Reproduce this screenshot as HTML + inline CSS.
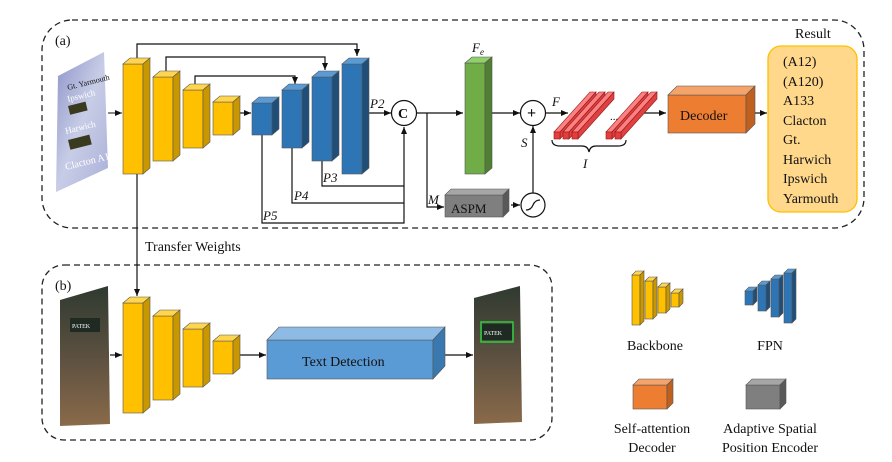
<!DOCTYPE html>
<html><head><meta charset="utf-8"><style>
html,body{margin:0;padding:0;background:#fff}
svg{display:block}
text{font-family:"Liberation Serif",serif;fill:#111}
</style></head><body>
<svg width="892" height="462" viewBox="0 0 892 462" xmlns="http://www.w3.org/2000/svg">
<defs>
<marker id="ar" markerWidth="8" markerHeight="8" refX="7" refY="4" orient="auto" markerUnits="userSpaceOnUse"><path d="M0,1 L7,4 L0,7 z" fill="#111"/></marker>
<linearGradient id="img1" x1="0" y1="0" x2="1" y2="1"><stop offset="0" stop-color="#8c93c8"/><stop offset="0.5" stop-color="#c8cde6"/><stop offset="1" stop-color="#aab0d8"/></linearGradient>
<linearGradient id="img2" x1="0" y1="0" x2="0" y2="1"><stop offset="0" stop-color="#2f3a30"/><stop offset="0.5" stop-color="#5b5040"/><stop offset="1" stop-color="#8a6a4a"/></linearGradient>
</defs>
<!-- dashed containers -->
<rect x="42" y="20" width="822" height="208" rx="30" fill="none" stroke="#222" stroke-width="1.3" stroke-dasharray="6,4"/>
<rect x="42" y="265" width="510" height="175" rx="22" fill="none" stroke="#222" stroke-width="1.3" stroke-dasharray="6,4"/>
<text x="55" y="45" font-size="14">(a)</text>
<text x="55" y="290" font-size="14">(b)</text>

<!-- input image a -->
<polygon points="58,76 104,52 108,168 56,192" fill="url(#img1)"/>
<text x="68" y="90" font-size="8" font-family="Liberation Sans" fill="#fff" transform="rotate(-14 68 90)">Gt. Yarmouth</text>
<text x="68" y="102" font-size="9" font-family="Liberation Sans" transform="rotate(-14 68 102)" style="fill:#fff">Ipswich</text>
<rect x="68" y="106" width="18" height="9" fill="#3a3a20" transform="rotate(-14 68 106)"/>
<text x="66" y="134" font-size="9" font-family="Liberation Sans" transform="rotate(-14 66 134)" style="fill:#fff">Harwich</text>
<rect x="68" y="140" width="22" height="10" fill="#3a3a20" transform="rotate(-14 68 140)"/>
<text x="66" y="170" font-size="10" font-family="Liberation Sans" transform="rotate(-14 66 170)" style="fill:#fff">Clacton A133</text>
<line x1="108" y1="113" x2="122" y2="113" stroke="#111" marker-end="url(#ar)"/>

<!-- skip lines -->
<g fill="none" stroke="#111" stroke-width="1.2">
<polyline points="137,58 137,44 357,44 357,56" marker-end="url(#ar)"/>
<polyline points="166,71 166,57 325,57 325,70" marker-end="url(#ar)"/>
<polyline points="195,84 195,76 295,76 295,84" marker-end="url(#ar)"/>
<line x1="240" y1="113" x2="251" y2="113" marker-end="url(#ar)"/>
<line x1="369" y1="113" x2="391" y2="113" marker-end="url(#ar)"/>
<polyline points="322,161 322,186 404,186"/>
<polyline points="292,148 292,203 404,203"/>
<polyline points="262,135 262,223 404,223 404,127" marker-end="url(#ar)"/>
<line x1="417" y1="113" x2="463" y2="113" marker-end="url(#ar)"/>
<polyline points="427,113 427,207 444,207" marker-end="url(#ar)"/>
<line x1="492" y1="113" x2="520" y2="113" marker-end="url(#ar)"/>
<line x1="511" y1="205" x2="520" y2="205" marker-end="url(#ar)"/>
<line x1="533" y1="193" x2="533" y2="126" marker-end="url(#ar)"/>
<line x1="545" y1="113" x2="568" y2="113" marker-end="url(#ar)"/>
<line x1="634" y1="113" x2="666" y2="113" marker-end="url(#ar)"/>
<line x1="755" y1="113" x2="767" y2="113" marker-end="url(#ar)"/>
<line x1="137" y1="174" x2="137" y2="296" marker-end="url(#ar)"/>
<line x1="240" y1="355" x2="266" y2="355" marker-end="url(#ar)"/>
<line x1="445" y1="355" x2="473" y2="355" marker-end="url(#ar)"/>
<line x1="110" y1="355" x2="122" y2="355" marker-end="url(#ar)"/>
<path d="M552,140 q0,6 8,6 h22 q6,0 7,6 q1,-6 7,-6 h22 q8,0 8,-6"/>
</g>

<!-- backbone a -->
<g stroke="#555" stroke-width="0.6">
<rect x="123" y="64" width="20" height="110" fill="#ffc000"/><polygon points="123,64 130,58 150,58 143,64" fill="#ffd54f"/><polygon points="143,64 150,58 150,168 143,174" fill="#c99700"/>
<rect x="153" y="77" width="20" height="84" fill="#ffc000"/><polygon points="153,77 160,71 180,71 173,77" fill="#ffd54f"/><polygon points="173,77 180,71 180,155 173,161" fill="#c99700"/>
<rect x="183" y="90" width="20" height="58" fill="#ffc000"/><polygon points="183,90 190,84 210,84 203,90" fill="#ffd54f"/><polygon points="203,90 210,84 210,142 203,148" fill="#c99700"/>
<rect x="213" y="102" width="20" height="33" fill="#ffc000"/><polygon points="213,102 220,96 240,96 233,102" fill="#ffd54f"/><polygon points="233,102 240,96 240,129 233,135" fill="#c99700"/>
<!-- fpn -->
<rect x="252" y="103" width="20" height="32" fill="#2e75b6"/><polygon points="252,103 259,97 279,97 272,103" fill="#5b9bd5"/><polygon points="272,103 279,97 279,129 272,135" fill="#1f4e79"/>
<rect x="282" y="90" width="20" height="58" fill="#2e75b6"/><polygon points="282,90 289,84 309,84 302,90" fill="#5b9bd5"/><polygon points="302,90 309,84 309,142 302,148" fill="#1f4e79"/>
<rect x="312" y="77" width="20" height="84" fill="#2e75b6"/><polygon points="312,77 319,71 339,71 332,77" fill="#5b9bd5"/><polygon points="332,77 339,71 339,155 332,161" fill="#1f4e79"/>
<rect x="342" y="64" width="20" height="110" fill="#2e75b6"/><polygon points="342,64 349,58 369,58 362,64" fill="#5b9bd5"/><polygon points="362,64 369,58 369,168 362,174" fill="#1f4e79"/>
<!-- green -->
<rect x="465" y="63" width="20" height="111" fill="#70ad47"/><polygon points="465,63 472,57 492,57 485,63" fill="#8fd06a"/><polygon points="485,63 492,57 492,168 485,174" fill="#507e32"/>
<!-- aspm -->
<rect x="445" y="195" width="58" height="22" fill="#7f7f7f"/><polygon points="445,195 451,189 509,189 503,195" fill="#a6a6a6"/><polygon points="503,195 509,189 509,211 503,217" fill="#595959"/>
<!-- decoder -->
<rect x="668" y="95" width="78" height="38" fill="#ed7d31"/><polygon points="668,95 677,86 755,86 746,95" fill="#f4a36a"/><polygon points="746,95 755,86 755,124 746,133" fill="#c0601f"/>
</g>
<text x="370" y="108" font-size="13" font-style="italic">P2</text>
<text x="323" y="182" font-size="13" font-style="italic">P3</text>
<text x="294" y="200" font-size="13" font-style="italic">P4</text>
<text x="263" y="220" font-size="13" font-style="italic">P5</text>
<text x="428" y="204" font-size="13" font-style="italic">M</text>
<text x="451" y="213" font-size="13">ASPM</text>
<text x="472" y="52" font-size="13" font-style="italic">F<tspan font-size="9" dy="3">e</tspan></text>
<text x="552" y="106" font-size="13" font-style="italic">F</text>
<text x="521" y="147" font-size="13" font-style="italic">S</text>
<text x="583" y="168" font-size="13" font-style="italic">I</text>
<text x="680" y="120" font-size="14">Decoder</text>
<circle cx="404" cy="113" r="12.5" fill="#fff" stroke="#111" stroke-width="1.2"/>
<text x="398" y="118" font-size="14" font-weight="bold">C</text>
<circle cx="533" cy="113" r="12.5" fill="#fff" stroke="#111" stroke-width="1.2"/>
<text x="527" y="118" font-size="16" font-weight="bold">+</text>
<circle cx="533" cy="205" r="12" fill="#fff" stroke="#111" stroke-width="1.2"/>
<path d="M526,210 q5,0 7,-5 q2,-5 7,-5" fill="none" stroke="#111" stroke-width="1.2"/>

<!-- red bars -->
<g stroke="#8b1a1a" stroke-width="0.6">
<polygon points="554,132 590,92 596,92 560,132" fill="#ff8080"/><polygon points="560,132 596,92 596,99 560,139" fill="#e04040"/><rect x="554" y="132" width="6" height="7" fill="#e83c3c"/>
<polygon points="563,132 599,92 605,92 569,132" fill="#ff8080"/><polygon points="569,132 605,92 605,99 569,139" fill="#e04040"/><rect x="563" y="132" width="6" height="7" fill="#e83c3c"/>
<polygon points="572,132 608,92 614,92 578,132" fill="#ff8080"/><polygon points="578,132 614,92 614,99 578,139" fill="#e04040"/><rect x="572" y="132" width="6" height="7" fill="#e83c3c"/>
<polygon points="606,132 642,92 648,92 612,132" fill="#ff8080"/><polygon points="612,132 648,92 648,99 612,139" fill="#e04040"/><rect x="606" y="132" width="6" height="7" fill="#e83c3c"/>
<polygon points="615,132 651,92 657,92 621,132" fill="#ff8080"/><polygon points="621,132 657,92 657,99 621,139" fill="#e04040"/><rect x="615" y="132" width="6" height="7" fill="#e83c3c"/>
</g>
<text x="610" y="120" font-size="11">...</text>

<!-- result -->
<text x="795" y="38" font-size="14">Result</text>
<rect x="768" y="46" width="89" height="166" rx="13" fill="#ffd88c" stroke="#ffc000" stroke-width="1.3"/>
<g font-size="14">
<text x="783" y="66">(A12)</text><text x="783" y="86">(A120)</text><text x="783" y="105">A133</text><text x="783" y="125">Clacton</text><text x="783" y="144">Gt.</text><text x="783" y="164">Harwich</text><text x="783" y="183">Ipswich</text><text x="783" y="203">Yarmouth</text>
</g>

<text x="145" y="251" font-size="14">Transfer Weights</text>

<!-- (b) -->
<polygon points="60,300 108,286 110,424 60,426" fill="url(#img2)"/>
<rect x="70" y="318" width="30" height="14" fill="#1e2a22"/>
<text x="72" y="328" font-size="6" font-family="Liberation Sans" style="fill:#fff">PATEK</text>
<g stroke="#555" stroke-width="0.6">
<rect x="123" y="303" width="20" height="110" fill="#ffc000"/><polygon points="123,303 130,297 150,297 143,303" fill="#ffd54f"/><polygon points="143,303 150,297 150,407 143,413" fill="#c99700"/>
<rect x="153" y="316" width="20" height="84" fill="#ffc000"/><polygon points="153,316 160,310 180,310 173,316" fill="#ffd54f"/><polygon points="173,316 180,310 180,394 173,400" fill="#c99700"/>
<rect x="183" y="329" width="20" height="58" fill="#ffc000"/><polygon points="183,329 190,323 210,323 203,329" fill="#ffd54f"/><polygon points="203,329 210,323 210,381 203,387" fill="#c99700"/>
<rect x="213" y="341" width="20" height="33" fill="#ffc000"/><polygon points="213,341 220,335 240,335 233,341" fill="#ffd54f"/><polygon points="233,341 240,335 240,368 233,374" fill="#c99700"/>
<rect x="267" y="340" width="166" height="39" fill="#5b9bd5"/><polygon points="267,340 279,327 445,327 433,340" fill="#8dbbe6"/><polygon points="433,340 445,327 445,366 433,379" fill="#3a78b0"/>
</g>
<text x="302" y="366" font-size="14">Text Detection</text>
<polygon points="474,298 520,286 522,422 474,424" fill="url(#img2)"/>
<rect x="482" y="324" width="30" height="16" fill="#1e2a22"/>
<text x="484" y="335" font-size="6" font-family="Liberation Sans" style="fill:#fff">PATEK</text>
<rect x="481" y="322" width="32" height="20" fill="none" stroke="#2ecc40" stroke-width="1.5"/>

<!-- legend -->
<g stroke="#555" stroke-width="0.6">
<rect x="632" y="275" width="8" height="50" fill="#ffc000"/><polygon points="632,275 636,271 644,271 640,275" fill="#ffd54f"/><polygon points="640,275 644,271 644,321 640,325" fill="#c99700"/>
<rect x="645" y="281" width="8" height="38" fill="#ffc000"/><polygon points="645,281 649,277 657,277 653,281" fill="#ffd54f"/><polygon points="653,281 657,277 657,315 653,319" fill="#c99700"/>
<rect x="658" y="287" width="8" height="26" fill="#ffc000"/><polygon points="658,287 662,283 670,283 666,287" fill="#ffd54f"/><polygon points="666,287 670,283 670,309 666,313" fill="#c99700"/>
<rect x="671" y="293" width="8" height="14" fill="#ffc000"/><polygon points="671,293 675,289 683,289 679,293" fill="#ffd54f"/><polygon points="679,293 683,289 683,303 679,307" fill="#c99700"/>
<rect x="745" y="291" width="8" height="14" fill="#2e75b6"/><polygon points="745,291 749,287 757,287 753,291" fill="#5b9bd5"/><polygon points="753,291 757,287 757,301 753,305" fill="#1f4e79"/>
<rect x="758" y="285" width="8" height="26" fill="#2e75b6"/><polygon points="758,285 762,281 770,281 766,285" fill="#5b9bd5"/><polygon points="766,285 770,281 770,307 766,311" fill="#1f4e79"/>
<rect x="771" y="279" width="8" height="38" fill="#2e75b6"/><polygon points="771,279 775,275 783,275 779,279" fill="#5b9bd5"/><polygon points="779,279 783,275 783,313 779,317" fill="#1f4e79"/>
<rect x="784" y="273" width="8" height="50" fill="#2e75b6"/><polygon points="784,273 788,269 796,269 792,273" fill="#5b9bd5"/><polygon points="792,273 796,269 796,319 792,323" fill="#1f4e79"/>
<rect x="633" y="385" width="34" height="24" fill="#ed7d31"/><polygon points="633,385 639,379 673,379 667,385" fill="#f4a36a"/><polygon points="667,385 673,379 673,403 667,409" fill="#c0601f"/>
<rect x="746" y="385" width="34" height="24" fill="#7f7f7f"/><polygon points="746,385 752,379 786,379 780,385" fill="#a6a6a6"/><polygon points="780,385 786,379 786,403 780,409" fill="#595959"/>
</g>
<g font-size="14" text-anchor="middle">
<text x="655" y="350">Backbone</text>
<text x="770" y="350">FPN</text>
<text x="652" y="433">Self-attention</text>
<text x="652" y="452">Decoder</text>
<text x="770" y="433">Adaptive Spatial</text>
<text x="770" y="452">Position Encoder</text>
</g>
</svg>
</body></html>
